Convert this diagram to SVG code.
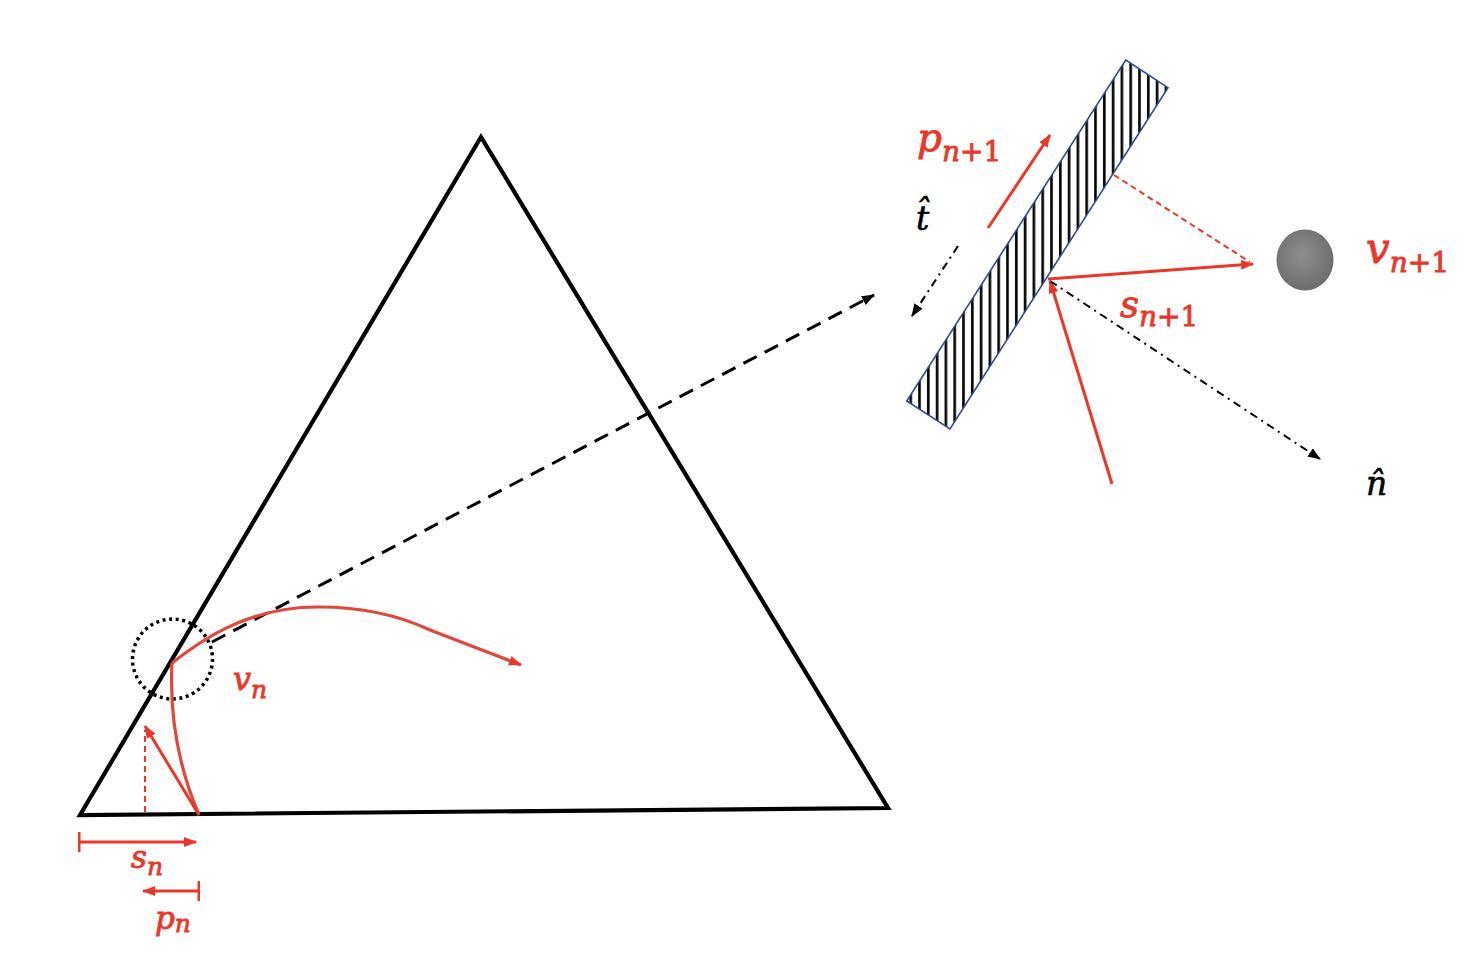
<svg xmlns="http://www.w3.org/2000/svg" width="1472" height="954" viewBox="0 0 1472 954">
<defs>
<style>
.tri{fill:none;stroke:#000;stroke-width:4.2;stroke-linejoin:miter}
.red{fill:none;stroke:#E8382A;stroke-width:3}
.curve{fill:none;stroke:#E0483A;stroke-width:3.2}
.rdash{fill:none;stroke:#E8382A;stroke-width:2;stroke-dasharray:6 4}
.bdash{fill:none;stroke:#000;stroke-width:3;stroke-dasharray:15 9}
.dashdot{fill:none;stroke:#000;stroke-width:2;stroke-dasharray:8 5 2 5}
.lbl{font-family:"DejaVu Serif",serif;fill:#E8382A;stroke:#E8382A;stroke-width:0.9}
.blk{font-family:"DejaVu Serif",serif;fill:#000;stroke:#000;stroke-width:0.6}
.it{font-style:italic}
</style>
<marker id="ra" markerUnits="userSpaceOnUse" markerWidth="13" markerHeight="10" refX="12" refY="5" orient="auto"><path d="M0,0 L13,5 L0,10 z" fill="#E8382A"/></marker>
<marker id="ba" markerUnits="userSpaceOnUse" markerWidth="13" markerHeight="10" refX="12" refY="5" orient="auto"><path d="M0,0 L13,5 L0,10 z" fill="#000"/></marker>
<marker id="bar" markerUnits="userSpaceOnUse" markerWidth="4" markerHeight="20" refX="2" refY="10" orient="auto"><rect x="0" y="0" width="2.5" height="20" fill="#E8382A"/></marker>
<pattern id="hatch" patternUnits="userSpaceOnUse" width="8.8" height="20"><rect width="8.8" height="20" fill="#fff"/><rect x="3" y="0" width="2.6" height="20" fill="#000"/></pattern>
<radialGradient id="ball" cx="0.45" cy="0.42" r="0.6"><stop offset="0" stop-color="#8e8e8e"/><stop offset="1" stop-color="#6c6c6c"/></radialGradient>
</defs>

<g id="triangle"><path class="tri" d="M481,137 L888,808 L80,815 Z"/></g>

<g id="wall">
<polygon points="1125.7,60 1168,87.7 950,429 906.7,401" fill="url(#hatch)" stroke="#2F4C8C" stroke-width="1.6"/>
</g>

<g id="particle"><ellipse cx="1305" cy="260" rx="28.5" ry="30.5" fill="url(#ball)"/></g>

<g id="zoom-circle"><circle cx="172.5" cy="659" r="40" fill="none" stroke="#000" stroke-width="3.5" stroke-dasharray="3 3.6"/></g>

<g id="connectors">
<path class="bdash" d="M212,642 L874,295" marker-end="url(#ba)"/>
<path class="curve" d="M199,815 Q168,742 172,663"/>
<path class="curve" d="M172,663 C195,645 245,606 320,607 C365,607 400,616 430,630 L521,665" marker-end="url(#ra)"/>
<path class="red" d="M199,815 L145,726" marker-end="url(#ra)"/>
<path class="rdash" d="M145,812 L145,730"/>
<path class="red" d="M80,842 L196,842" marker-start="url(#bar)" marker-end="url(#ra)"/>
<path class="red" d="M198,891 L143,891" marker-start="url(#bar)" marker-end="url(#ra)"/>
<path class="red" d="M988,228 L1050,135" marker-end="url(#ra)"/>
<path class="dashdot" d="M958,246 L912,316" marker-end="url(#ba)"/>
<path class="red" d="M1112,484 L1050,281" marker-end="url(#ra)"/>
<path class="red" d="M1048,279 L1253,264" marker-end="url(#ra)"/>
<path class="rdash" d="M1114,175 L1250,262"/>
<path class="dashdot" d="M1050,281 L1320,459" marker-end="url(#ba)"/>
</g>

<g id="labels">
<text class="lbl" x="917" y="151" font-size="39"><tspan class="it">p</tspan><tspan font-size="28" dy="10"><tspan class="it">n</tspan>+1</tspan></text>
<text class="lbl" x="1366" y="263" font-size="42"><tspan class="it">v</tspan><tspan font-size="28" dy="9"><tspan class="it">n</tspan>+1</tspan></text>
<text class="lbl" x="1120" y="317" font-size="37"><tspan class="it">s</tspan><tspan font-size="28" dy="9"><tspan class="it">n</tspan>+1</tspan></text>
<text class="lbl" x="233" y="690" font-size="32"><tspan class="it">v</tspan><tspan class="it" font-size="25" dy="8">n</tspan></text>
<text class="lbl" x="131" y="868" font-size="31"><tspan class="it">s</tspan><tspan class="it" font-size="25" dy="7">n</tspan></text>
<text class="lbl" x="155" y="929" font-size="31"><tspan class="it">p</tspan><tspan class="it" font-size="25" dy="3">n</tspan></text>
<text class="blk it" x="916" y="230" font-size="33">t̂</text>
<text class="blk it" x="1366" y="495" font-size="33">n̂</text>
</g>
</svg>
